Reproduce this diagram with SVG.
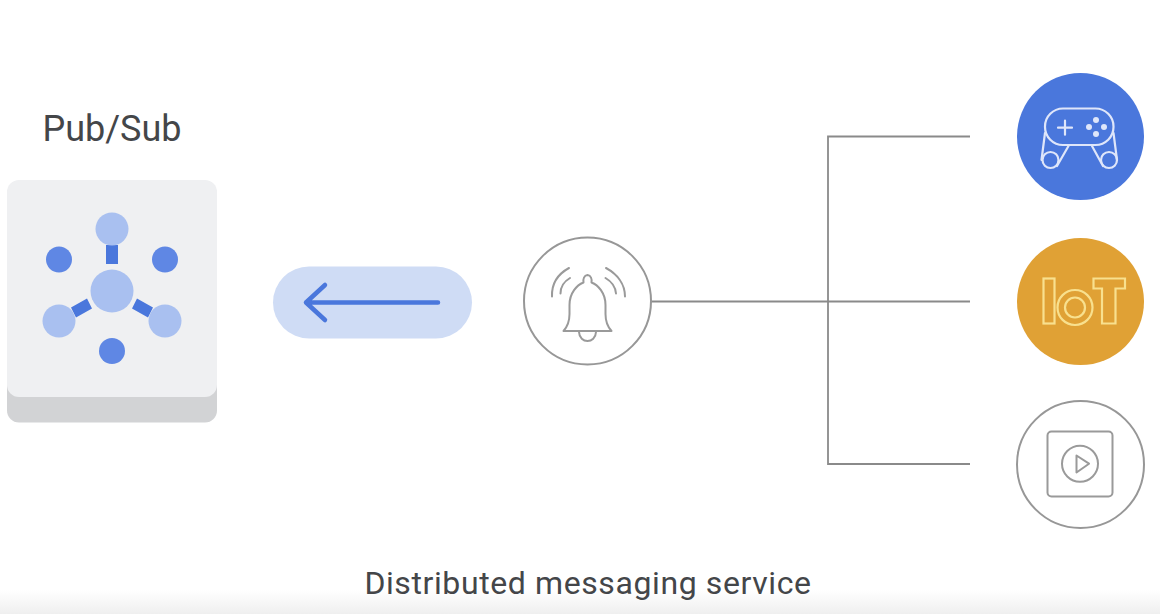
<svg xmlns="http://www.w3.org/2000/svg" width="1160" height="614" viewBox="0 0 1160 614">
<style>
.t{font-family:Roboto,"Liberation Sans",sans-serif;fill:#444649}
.w{fill:none;stroke-linecap:round;stroke-linejoin:round}
.g{fill:none;stroke:#9a9a9a;stroke-width:2;stroke-linecap:round;stroke-linejoin:round}
.c{fill:#fff;stroke:#979797;stroke-width:2}
.l{fill:#a9c0f0}.d{fill:#5f87e4}.b{fill:#4a77dc}
.p{fill:none;stroke:#dfe6fa;stroke-width:2.200;stroke-linecap:round;stroke-linejoin:round}
.y{fill:none;stroke:#f8e08e;stroke-width:2.200}
</style>
<defs><linearGradient id="fade" x1="0" y1="0" x2="0" y2="1"><stop offset="0" stop-color="#fff"/><stop offset="1" stop-color="#efefef"/></linearGradient></defs>
<rect width="1160" height="614" fill="#fff"/>
<rect y="590" width="1160" height="24" fill="url(#fade)"/>
<g id="connectors" fill="none" stroke="#8a8a8a" stroke-width="1.800">
<path d="M970 136.500H828V464H970M651 301.500H970"/>
</g>
<g id="pubsub">
<text class="t" x="112" y="141" font-size="36" text-anchor="middle">Pub/Sub</text>
<rect x="7" y="300" width="210" height="122.500" rx="12" fill="#d2d3d5"/>
<rect x="7" y="180" width="210" height="217" rx="12" fill="#eff0f2"/>
<rect class="b" x="106" y="245" width="12" height="19"/>
<path class="b" d="M71 307.500L87 298.500L92 308.500L76 317.500ZM153 307.500L137 298.500L132 308.500L148 317.500Z"/>
<circle class="l" cx="112" cy="229" r="16.500"/>
<circle class="l" cx="112" cy="291" r="21.500"/>
<circle class="l" cx="59" cy="321" r="16.500"/>
<circle class="l" cx="165" cy="321" r="16.500"/>
<circle class="d" cx="59" cy="259.500" r="13"/>
<circle class="d" cx="165" cy="259.500" r="13"/>
<circle class="d" cx="112" cy="351" r="13"/>
</g>
<g id="arrow">
<rect x="273" y="266.500" width="199" height="72" rx="36" fill="#cfdcf5"/>
<path class="w" stroke="#4a77dc" stroke-width="4.500" d="M438 302.500H306M325 285L306 302.500L325 320"/>
</g>
<g id="bell">
<circle class="c" cx="587.500" cy="301" r="63.500"/>
<path class="g" d="M563.500 331H611.500C607 326 605.500 321 605.500 314V305C605.500 293 598 285 591.500 282.500C592 279 591 275.500 587.500 275C584 275.500 583 279 583.500 282.500C577 285 569.500 293 569.500 305V314C569.500 321 568 326 563.500 331ZM579 332C579.500 344 595.500 344 596 332M569 268C558 274 551.500 284 552 296.500M570 278C564 281.500 560.500 287 560.500 293.500M606 268C617 274 625 284 625 296.500M605.500 278C611.500 281.500 615.500 287 616 293.500"/>
</g>
<g id="gamepad">
<circle class="b" cx="1080.500" cy="136.500" r="63.500"/>
<rect class="p" x="1045" y="108.500" width="68.500" height="36.500" rx="18"/>
<circle class="p" cx="1050.500" cy="160" r="8"/>
<circle class="p" cx="1109" cy="160" r="8"/>
<path class="p" d="M1045 133L1041.500 160M1068.500 146L1057 166M1113.500 133L1117 160M1092 146L1103 166M1058 127.700H1072M1065 120.700V134.700"/>
<g fill="#dfe6fa"><circle cx="1096" cy="120" r="3"/><circle cx="1096" cy="134" r="3"/><circle cx="1089" cy="127" r="3"/><circle cx="1104" cy="127" r="3"/></g>
</g>
<g id="iot">
<circle cx="1080.500" cy="301.500" r="63.500" fill="#e0a135"/>
<rect class="y" x="1043.500" y="278.500" width="11" height="45"/>
<circle class="y" cx="1075" cy="307.500" r="17.500"/>
<circle class="y" cx="1075" cy="307.500" r="10"/>
<path class="y" d="M1093.500 278.500H1125V288.500H1115.500V323.500H1102V288.500H1093.500Z"/>
</g>
<g id="video">
<circle class="c" cx="1080.500" cy="464.500" r="63.500"/>
<rect class="g" x="1047.500" y="431.500" width="65" height="65" rx="4"/>
<circle class="g" cx="1080" cy="463.700" r="18"/>
<path class="g" d="M1076.500 455.500L1089 463.700L1076.500 472.500Z"/>
</g>
<g id="caption">
<text class="t" x="588" y="594" font-size="32" letter-spacing="0.600" text-anchor="middle">Distributed messaging service</text>
</g>
</svg>
